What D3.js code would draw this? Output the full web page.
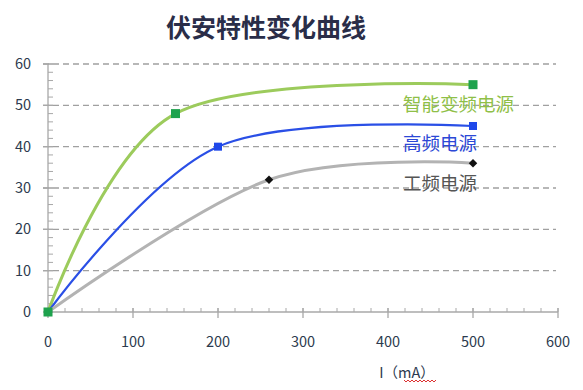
<!DOCTYPE html>
<html><head><meta charset="utf-8">
<script src="https://cdn.jsdelivr.net/npm/d3@7"></script>
<style>body{margin:0;background:#fff}svg{display:block}</style>
</head><body><svg id="c" width="583" height="390"></svg>
<script>
const seriesNames = ["智能变频电源", "高频电源", "工频电源"];
const greenX = [0, 150, 500], greenY = [0, 48, 55];
const blueX = [0, 200, 500], blueY = [0, 40, 45];
const grayX = [0, 260, 500], grayY = [0, 32, 36];
const xTicks = [0, 100, 200, 300, 400, 500, 600];
const yTicks = [0, 10, 20, 30, 40, 50, 60];
const title = "伏安特性变化曲线";
const xTitle = "I（mA）";

const svg = d3.select("#c");
const font = "'Microsoft YaHei','Noto Sans CJK SC','Open Sans',sans-serif";
const x = d3.scaleLinear().domain([0, 600]).range([48, 558]);
const y = d3.scaleLinear().domain([0, 60]).range([312, 64]);

// title
svg.append("text").attr("x", 266).attr("y", 37).attr("text-anchor", "middle")
  .attr("font-family", font).attr("font-size", 25).attr("font-weight", "bold")
  .attr("fill", "#2a2d48").text(title);

// gridlines
svg.append("g").selectAll("line").data(yTicks.filter(d => d > 0)).join("line")
  .attr("x1", 43).attr("x2", 556).attr("y1", d => y(d)).attr("y2", d => y(d))
  .attr("stroke", "#a0a0a0").attr("stroke-width", 1.3).attr("stroke-dasharray", "6,4");

// y axis
const gy = svg.append("g").attr("transform", `translate(${x(0)},0)`);
gy.append("line").attr("y1", y(0)).attr("y2", y(60)).attr("stroke", "#a8a8a8").attr("stroke-width", 1.3);
gy.selectAll("line.mn").data(d3.range(0, 61, 2)).join("line").attr("class", "mn")
  .attr("x1", 0).attr("x2", 5).attr("y1", d => y(d)).attr("y2", d => y(d))
  .attr("stroke", "#a8a8a8");
gy.selectAll("line.mj").data(yTicks).join("line").attr("class", "mj")
  .attr("x1", -5).attr("x2", 5).attr("y1", d => y(d)).attr("y2", d => y(d))
  .attr("stroke", "#a8a8a8").attr("stroke-width", 1.3);
svg.append("g").selectAll("text").data(yTicks).join("text")
  .attr("x", 31).attr("y", d => y(d) + 5).attr("text-anchor", "end")
  .attr("font-family", font).attr("font-size", 14.5).attr("fill", "#2c3a4e").text(d => d);

// x axis
const gx = svg.append("g").attr("transform", `translate(0,${y(0)})`);
gx.append("line").attr("x1", x(0)).attr("x2", x(600)).attr("stroke", "#a8a8a8").attr("stroke-width", 1.3);
gx.selectAll("line.mn").data(d3.range(0, 601, 20)).join("line").attr("class", "mn")
  .attr("x1", d => x(d)).attr("x2", d => x(d)).attr("y1", -4).attr("y2", 0)
  .attr("stroke", "#a8a8a8");
gx.selectAll("line.mj").data(xTicks).join("line").attr("class", "mj")
  .attr("x1", d => x(d)).attr("x2", d => x(d)).attr("y1", -4).attr("y2", 6)
  .attr("stroke", "#a8a8a8").attr("stroke-width", 1.3);
svg.append("g").selectAll("text").data(xTicks).join("text")
  .attr("x", d => x(d)).attr("y", 347).attr("text-anchor", "middle")
  .attr("font-family", font).attr("font-size", 14.5).attr("fill", "#2c3a4e").text(d => d);

// x title
svg.append("text").attr("x", 407).attr("y", 378).attr("text-anchor", "middle")
  .attr("font-family", font).attr("font-size", 14.5).attr("fill", "#2c3a4e").text(xTitle);
// red squiggle under "mA"
{
  let p = "M404,380";
  for (let i = 0; i < 8; i++) p += ` l2,2 l2,-2`;
  svg.append("path").attr("d", p).attr("fill", "none").attr("stroke", "#d33").attr("stroke-width", 1);
}

const series = [
  {xs: greenX, ys: greenY, color: "#9ccb5c", w: 3, mcol: "#1ea24d", shape: "sq", ms: 9, lcol: "#8fbf48"},
  {xs: blueX, ys: blueY, color: "#2a4fe6", w: 2.2, mcol: "#1f48ea", shape: "sq", ms: 8, lcol: "#2c48d6"},
  {xs: grayX, ys: grayY, color: "#b3b3b3", w: 3, mcol: "#111", shape: "dia", ms: 6, lcol: "#555"}
];
const line = d3.line().x(d => x(d[0])).y(d => y(d[1])).curve(d3.curveCardinal.tension(0));
series.forEach(s => {
  const pts = s.xs.map((v, i) => [v, s.ys[i]]);
  svg.append("path").attr("d", line(pts)).attr("fill", "none")
    .attr("stroke", s.color).attr("stroke-width", s.w);
});
[...series].reverse().forEach(s => {
  const pts = s.xs.map((v, i) => [v, s.ys[i]]);
  svg.append("g").selectAll("rect").data(pts).join("rect")
    .attr("x", d => x(d[0]) - s.ms / 2).attr("y", d => y(d[1]) - s.ms / 2)
    .attr("width", s.ms).attr("height", s.ms).attr("fill", s.mcol)
    .attr("transform", d => s.shape === "dia" ? `rotate(45,${x(d[0])},${y(d[1])})` : null);
});
// series labels
const labelPos = [[403, 111], [403, 150], [403, 190]];
series.forEach((s, i) => {
  svg.append("text").attr("x", labelPos[i][0]).attr("y", labelPos[i][1])
    .attr("font-family", font).attr("font-size", 18.5).attr("fill", s.lcol).text(seriesNames[i]);
});
</script></body></html>
